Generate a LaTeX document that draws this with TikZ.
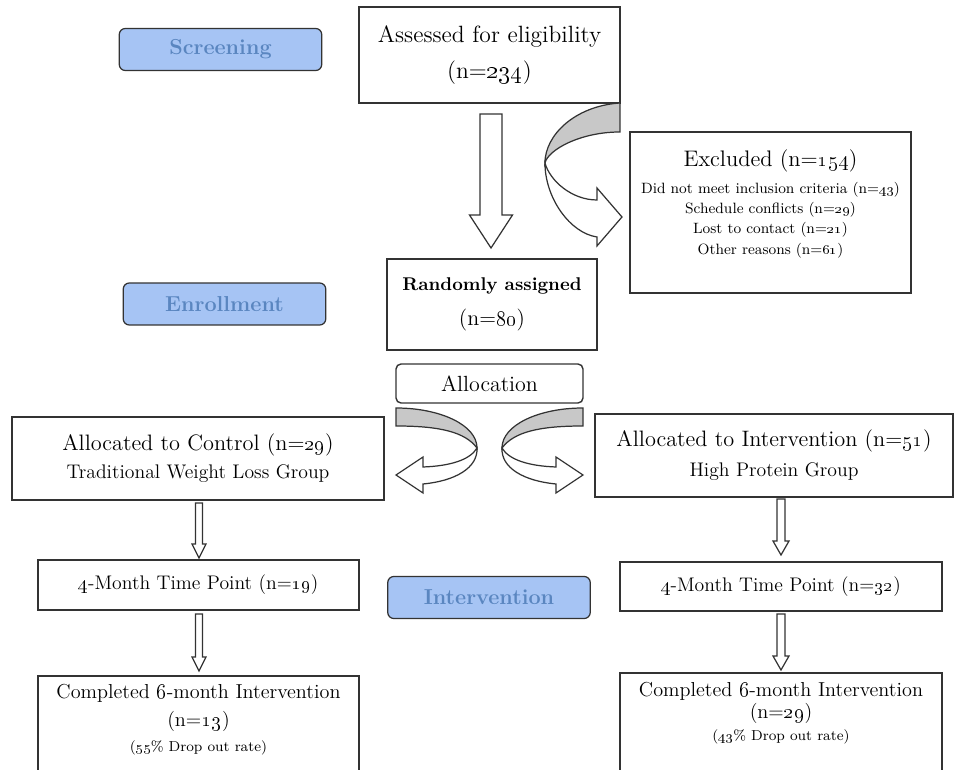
\documentclass[tikz,border=0pt]{standalone}
\usepackage{xcolor}
\usepackage{tikz}
\usetikzlibrary{calc}
\definecolor{tagfill}{HTML}{A6C4F4}
\definecolor{tagtext}{HTML}{5A86C0}
\definecolor{backgray}{HTML}{C8C8C8}
\definecolor{edge}{HTML}{333333}
\newcommand\nc[1]{(n=\oldstylenums{#1})}
\newcommand\fs[2]{\fontsize{#1}{#2}\selectfont}
\newcommand\hollowdown[5]{%
  \draw[hollow] ($(#1)+(-#3,0)$) -- ($(#2)+(-#3,-#5)$) -- ($(#2)+(-#4,-#5)$) -- (#2)
    -- ($(#2)+(#4,-#5)$) -- ($(#2)+(#3,-#5)$) -- ($(#1)+(#3,0)$) -- cycle;}
\tikzset{
  box/.style={draw=edge, line width=0.8pt, rectangle, inner sep=0pt, outer sep=0pt, align=center},
  tag/.style={draw=edge, line width=0.7pt, fill=tagfill, rounded corners=0.12cm,
    text=tagtext, font=\fs{12.3}{14}\bfseries, inner sep=0pt, minimum width=4.05cm, minimum height=0.84cm},
  hollow/.style={draw=edge, line width=0.7pt, fill=white, line join=miter},
  back/.style={draw=edge, line width=0.7pt, fill=backgray},
}
\begin{document}
\begin{tikzpicture}[x=0.02cm, y=-0.02cm]
                    \useasboundingbox (0,0) rectangle (958,770);
                    \clip (0,0) rectangle (958,770);
                    % stage tags
                    \node[tag] (screen) at (220.5,49.5) {Screening};
                    \node[tag] (enroll) at (224.5,304) {Enrollment};
                    \node[tag] (interv) at (489,597.5) {Intervention};
                    % boxes
                    \node[box, minimum width=5.22cm, minimum height=1.92cm, font=\fs{13.4}{20}] (assess) at (489.5,55)
                        {Assessed for eligibility\\ \nc{234}};
                    \node[box, minimum width=5.62cm, minimum height=3.22cm] (excl) at (770.5,212.5) {};
                    \node[align=center, anchor=north, inner sep=0pt, font=\fs{8.5}{11.5}] (excltext) at (770.5,149)
                        {{\fs{12.8}{15}Excluded \nc{154}}\\[4pt]
                         Did not meet inclusion criteria \nc{43}\\
                         Schedule conflicts \nc{29}\\
                         Lost to contact \nc{21}\\
                         Other reasons \nc{61}};
                    \node[box, minimum width=4.2cm, minimum height=1.82cm, font=\fs{12.5}{20}] (rand) at (492,304.5)
                        {{\bfseries\fs{10.5}{12}Randomly assigned}\\ \nc{80}};
                    \node[box, rounded corners=0.1cm, minimum width=3.74cm, minimum height=0.78cm, font=\fs{12.5}{14}] (alloc) at (489.5,383.5)
                        {Allocation};
                    \node[box, minimum width=7.44cm, minimum height=1.66cm, font=\fs{11.2}{16}] (ctrl) at (198,458.5)
                        {{\fs{12.7}{15}Allocated to Control \nc{29}}\\ Traditional Weight Loss Group};
                    \node[box, minimum width=7.16cm, minimum height=1.66cm, font=\fs{11.2}{17}] (intv) at (774,455.5)
                        {{\fs{12.7}{15}Allocated to Intervention \nc{51}}\\ High Protein Group};
                    \node[box, minimum width=6.42cm, minimum height=1.0cm, font=\fs{11.2}{13}] (fourL) at (198.5,585)
                        {\oldstylenums{4}-Month Time Point \nc{19}};
                    \node[box, minimum width=6.44cm, minimum height=0.98cm, font=\fs{11.2}{13}] (fourR) at (781,586.5)
                        {\oldstylenums{4}-Month Time Point \nc{32}};
                    \node[box, anchor=north, minimum width=6.42cm, minimum height=2.4cm] (doneL) at (198.5,676) {};
                    \node[box, anchor=north, minimum width=6.44cm, minimum height=2.4cm] (doneR) at (781,673) {};
                    \node[align=center, anchor=north, inner sep=0pt, font=\fs{11.5}{16}] (doneLtext) at (198.5,684)
                        {Completed \oldstylenums{6}-month Intervention\\ \nc{13}\\[-2pt] {\fs{8.2}{10}(\oldstylenums{55}\% Drop out rate)}};
                    \node[align=center, anchor=north, inner sep=0pt, font=\fs{11.5}{12.5}] (doneRtext) at (781,682)
                        {Completed \oldstylenums{6}-month Intervention\\ \nc{29}\\ {\fs{8.2}{10}(\oldstylenums{43}\% Drop out rate)}};
                    % straight block arrows
                    \coordinate (a1) at ($(assess.south)+(1.5,11)$);
                    \coordinate (b1) at ($(rand.north)+(-1,-11)$);
                    \hollowdown{a1}{b1}{11}{21.5}{33}
                    \coordinate (a2) at ($(ctrl.south -| fourL.north)+(0.5,3)$);
                    \coordinate (b2) at ($(fourL.north)+(0.5,-2)$);
                    \hollowdown{a2}{b2}{3.5}{7}{14}
                    \coordinate (a3) at ($(fourL.south)+(0.5,4)$);
                    \coordinate (b3) at ($(doneL.north)+(0.5,-5)$);
                    \hollowdown{a3}{b3}{3.5}{7}{14}
                    \coordinate (a4) at ($(intv.south -| fourR.north)+(0,2)$);
                    \coordinate (b4) at ($(fourR.north)+(0,-7)$);
                    \hollowdown{a4}{b4}{4}{8}{14}
                    \coordinate (a5) at ($(fourR.south)+(0,3)$);
                    \coordinate (b5) at ($(doneR.north)+(0,-3)$);
                    \hollowdown{a5}{b5}{4}{8}{14}
                    % curved arrow to the excluded box
                    \begin{scope}[shift={(assess.south east)}]
                        \draw[back] (0,0) .. controls (-45,3) and (-75,32) .. (-75,60)
                            .. controls (-72,47) and (-40,29) .. (0,29) -- cycle;
                        \draw[hollow] (-75,60) .. controls (-75,95) and (-50,130) .. (-23,134)
                            -- (-23,143) -- (2,114) -- (-23,85) -- (-23,97)
                            .. controls (-48,97) and (-70,78) .. (-75,60) -- cycle;
                    \end{scope}
                    % curved arrows of the allocation
                    \foreach \side in {1,-1}{
                        \begin{scope}[shift={(alloc.south)}, xscale=\side]
                            \draw[back] (-93.5,5) .. controls (-49.5,5) and (-12.5,22) .. (-12.5,45)
                                .. controls (-24.5,29) and (-49.5,23) .. (-93.5,23) -- cycle;
                            \draw[hollow] (-12.5,45) .. controls (-11.5,65) and (-34.5,78) .. (-66.5,81)
                                -- (-66.5,90) -- (-93.5,72) -- (-66.5,54) -- (-66.5,64)
                                .. controls (-39.5,63) and (-19.5,57) .. (-12.5,45) -- cycle;
                        \end{scope}
                    }
\end{tikzpicture}
\end{document}
